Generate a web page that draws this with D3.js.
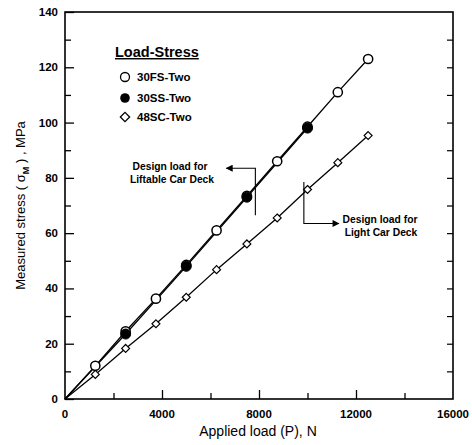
<!DOCTYPE html>
<html>
<head>
<meta charset="utf-8">
<script src="https://cdn.jsdelivr.net/npm/d3@7"></script>
<style>
  body { margin: 0; background: #fff; }
  text { font-family: Arial, "Liberation Sans", sans-serif; }
</style>
</head>
<body>
<div id="board"></div>
<script>
// Data
const loads = [1250, 2500, 3750, 5000, 6250, 7500, 8750, 10000, 11250, 12500];
const stress30FS = [12, 24.5, 36.3, 48.5, 61, 73.5, 86, 98.5, 111, 123];
const loads30SS = [2500, 5000, 7500, 10000];
const stress30SS = [23.5, 48, 73, 98];
const stress48SC = [8.9, 18.3, 27.2, 36.8, 46.8, 56.1, 65.5, 75.8, 85.5, 95.3];
const xTicks = [0, 4000, 8000, 12000, 16000];
const yTicks = [0, 20, 40, 60, 80, 100, 120, 140];
const seriesNames = ["30FS-Two", "30SS-Two", "48SC-Two"];
const designLiftable = 7850;
const designLight = 9850;

const width = 472;
const height = 445;
const marginTop = 12;
const marginRight = 19;
const marginBottom = 46;
const marginLeft = 65;

const x = d3.scaleLinear()
    .domain([0, 16000])
    .range([marginLeft, width - marginRight]);

const y = d3.scaleLinear()
    .domain([0, 140])
    .range([height - marginBottom, marginTop]);

const svg = d3.select("#board").append("svg")
    .attr("width", width)
    .attr("height", height);

// frame
svg.append("rect")
    .attr("x", x(0)).attr("y", y(140))
    .attr("width", x(16000) - x(0)).attr("height", y(0) - y(140))
    .attr("fill", "none").attr("stroke", "#000").attr("stroke-width", 1.6);

// left axis: ticks inward
const yAxis = svg.append("g")
    .attr("transform", `translate(${x(0)},0)`)
    .call(d3.axisRight(y).tickValues(d3.range(0, 141, 10)).tickSize(6).tickFormat(""));
yAxis.selectAll(".tick line").attr("x2", d => d % 20 === 0 ? 9 : 6).attr("stroke-width", 1.3);
yAxis.select(".domain").remove();
svg.append("g").selectAll("text")
    .data(yTicks).join("text")
    .attr("x", x(0) - 7).attr("y", d => y(d) + 4)
    .attr("text-anchor", "end")
    .attr("font-size", 11.5).attr("font-weight", "bold")
    .text(d => d);

// right axis
const yAxisR = svg.append("g")
    .attr("transform", `translate(${x(16000)},0)`)
    .call(d3.axisLeft(y).tickValues(d3.range(10, 140, 10)).tickSize(6).tickFormat(""));
yAxisR.select(".domain").remove();
yAxisR.selectAll(".tick line").attr("stroke-width", 1.2);

// bottom axis: ticks inward
const xAxis = svg.append("g")
    .attr("transform", `translate(0,${y(0)})`)
    .call(d3.axisTop(x).tickValues(d3.range(2000, 16000, 2000)).tickSize(6).tickFormat(""));
xAxis.selectAll(".tick line").attr("y2", d => d % 4000 === 0 ? -9 : -6).attr("stroke-width", 1.3);
xAxis.select(".domain").remove();
svg.append("g").selectAll("text")
    .data(xTicks).join("text")
    .attr("x", d => x(d)).attr("y", y(0) + 19)
    .attr("text-anchor", "middle")
    .attr("font-size", 11.5).attr("font-weight", "bold")
    .text(d => d);

// axis titles
svg.append("text")
    .attr("x", 258).attr("y", 436)
    .attr("text-anchor", "middle").attr("font-size", 14)
    .text("Applied load (P), N");

const yl = svg.append("text")
    .attr("transform", `translate(25,${(y(0) + y(140)) / 2}) rotate(-90)`)
    .attr("text-anchor", "middle").attr("font-size", 13);
yl.append("tspan").text("Measured stress ( \u03c3");
yl.append("tspan").attr("font-size", 9).attr("font-weight", "bold").attr("dy", 4).text("M");
yl.append("tspan").attr("dy", -4).text(" ) , MPa");

// lines
const line = d3.line().x(d => x(d[0])).y(d => y(d[1]));
const fs = [[0, 0]].concat(loads.map((l, i) => [l, stress30FS[i]]));
const ss = [[0, 0]].concat(loads30SS.map((l, i) => [l, stress30SS[i]]));
const sc = [[0, 0]].concat(loads.map((l, i) => [l, stress48SC[i]]));

[fs, ss, sc].forEach(s => {
  svg.append("path").datum(s)
      .attr("d", line)
      .attr("fill", "none").attr("stroke", "#000").attr("stroke-width", 1.3);
});

// markers
svg.append("g").selectAll("circle")
    .data(fs.slice(1)).join("circle")
    .attr("cx", d => x(d[0])).attr("cy", d => y(d[1])).attr("r", 4.6)
    .attr("fill", "#fff").attr("stroke", "#000").attr("stroke-width", 1.5);

svg.append("g").selectAll("circle")
    .data(ss.slice(1)).join("circle")
    .attr("cx", d => x(d[0])).attr("cy", d => y(d[1])).attr("r", 5)
    .attr("fill", "#000").attr("stroke", "#000");

const diamond = d3.symbol().type(d3.symbolDiamond2).size(40);
svg.append("g").selectAll("path")
    .data(sc.slice(1)).join("path")
    .attr("transform", d => `translate(${x(d[0])},${y(d[1])})`)
    .attr("d", diamond)
    .attr("fill", "#fff").attr("stroke", "#000").attr("stroke-width", 1.2);

// legend
const legend = svg.append("g");
legend.append("text")
    .attr("x", 115).attr("y", 57)
    .attr("font-size", 14.5).attr("font-weight", "bold")
    .attr("text-decoration", "underline")
    .text("Load-Stress");
const legY = [77, 98, 117];
legend.append("circle").attr("cx", 125).attr("cy", legY[0]).attr("r", 4.5)
    .attr("fill", "#fff").attr("stroke", "#000").attr("stroke-width", 1.3);
legend.append("circle").attr("cx", 125).attr("cy", legY[1]).attr("r", 4.8)
    .attr("fill", "#000");
legend.append("path").attr("transform", `translate(125,${legY[2]})`)
    .attr("d", d3.symbol().type(d3.symbolDiamond2).size(55))
    .attr("fill", "#fff").attr("stroke", "#000").attr("stroke-width", 1.3);
legend.selectAll(".lbl")
    .data(seriesNames).join("text")
    .attr("class", "lbl")
    .attr("x", 137).attr("y", (d, i) => legY[i] + 4)
    .attr("font-size", 11.5).attr("font-weight", "bold")
    .text(d => d);

// arrow marker
svg.append("defs").append("marker")
    .attr("id", "arr").attr("viewBox", "0 0 10 10")
    .attr("refX", 9).attr("refY", 5)
    .attr("markerWidth", 13).attr("markerHeight", 7)
    .attr("markerUnits", "userSpaceOnUse")
    .attr("orient", "auto")
    .append("path").attr("d", "M0,0L10,5L0,10Z").attr("fill", "#000");

// design load annotations
const xa = x(designLiftable);
svg.append("path")
    .attr("d", `M${xa},${y(66.5)}V${y(83.5)}H${xa - 29}`)
    .attr("fill", "none").attr("stroke", "#000").attr("stroke-width", 1.1)
    .attr("marker-end", "url(#arr)");
const ta = svg.append("text").attr("font-size", 10.3).attr("font-weight", "bold").attr("text-anchor", "middle");
ta.append("tspan").attr("x", 170).attr("y", 170).text("Design load for");
ta.append("tspan").attr("x", 172).attr("y", 183).text("Liftable Car Deck");

const xb = x(designLight);
svg.append("path")
    .attr("d", `M${xb},${y(78.5)}V${y(63.5)}H${xb + 35}`)
    .attr("fill", "none").attr("stroke", "#000").attr("stroke-width", 1.1)
    .attr("marker-end", "url(#arr)");
const tb = svg.append("text").attr("font-size", 10.3).attr("font-weight", "bold").attr("text-anchor", "middle");
tb.append("tspan").attr("x", 380).attr("y", 223).text("Design load for");
tb.append("tspan").attr("x", 381).attr("y", 236).text("Light Car Deck");
</script>
</body>
</html>
